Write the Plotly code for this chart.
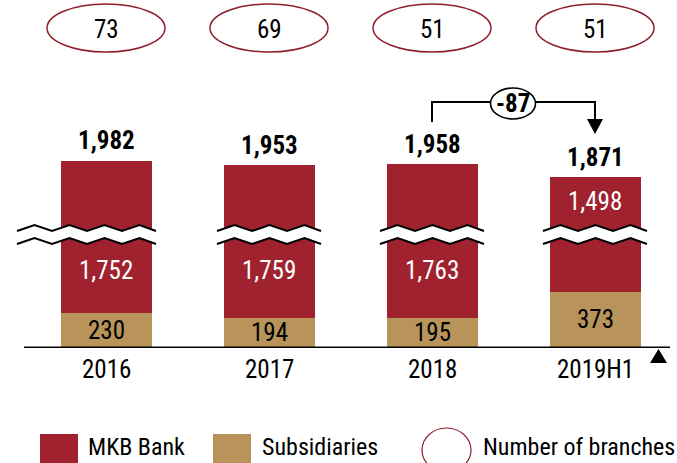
import plotly.graph_objects as go

# ---- data -------------------------------------------------------------
periods = ["2016", "2017", "2018", "2019H1"]
mkb_bank = [1752, 1759, 1763, 1498]
subsidiaries = [230, 194, 195, 373]
branches = [73, 69, 51, 51]
totals = [m + s for m, s in zip(mkb_bank, subsidiaries)]
change_label = "-87"

# ---- look -------------------------------------------------------------
RED = "#A0222F"
GOLD = "#B8945A"
RING = "#8E1F2C"
FONT = "Roboto Condensed, Liberation Sans, sans-serif"
FS = 25
FS_LEGEND = 24

W, H = 677, 463
X_STEP = 163.0          # px between category centres
X_FIRST = 106.0         # px of the first category centre
Y_BASE = 347.3          # px of the zero line
Y_SCALE = 0.149         # px per unit
CUT = 730               # units removed by the axis break
BREAK_MID = 757         # display units where the break sits
BAR_W = 91 / X_STEP

X0 = -X_FIRST / X_STEP
X1 = X0 + W / X_STEP
Y1 = Y_BASE / Y_SCALE
Y0 = -(H - Y_BASE) / Y_SCALE


def py(px_y):
    """pixel row -> y data value"""
    return (Y_BASE - px_y) / Y_SCALE


def dx(px):
    return px / X_STEP


def dy(px):
    return -px / Y_SCALE


def label(x, y, text, color="black", size=FS, **kw):
    return dict(x=x, y=y, text=text, showarrow=False, yanchor="middle",
                font=dict(size=size, color=color, family=FONT), **kw)


xs = list(range(len(periods)))
mkb_shown = [t - CUT - s for t, s in zip(totals, subsidiaries)]

fig = go.Figure()
fig.add_bar(x=xs, y=subsidiaries, marker=dict(color=GOLD, line=dict(width=0)),
            width=BAR_W, name="Subsidiaries", hoverinfo="skip")
fig.add_bar(x=xs, y=mkb_shown, marker=dict(color=RED, line=dict(width=0)),
            width=BAR_W, name="MKB Bank", hoverinfo="skip")

shapes = []
ann = []

# zero line and the marker at its right end
shapes.append(dict(type="line", xref="paper", yref="y", x0=24 / W, x1=670 / W,
                   y0=0, y1=0, line=dict(color="black", width=1.6)))
shapes.append(dict(type="path", xref="paper", yref="paper",
                   path=f"M {650/W} {1-363/H} L {667/W} {1-363/H} L {658.5/W} {1-349/H} Z",
                   fillcolor="black", line=dict(width=0)))

# axis-break zigzags
HALF = 17.5
AMP = 3.0
GAP = 13.0
for i in xs:
    left = -89 if i == 0 else -52
    right = 50 if i == 0 else 52
    pts = []
    k = 0
    while True:
        px = left + k * HALF
        if px >= right:
            px = right
        off = AMP if k % 2 == 0 else -AMP
        pts.append((px, off))
        if px >= right:
            break
        k += 1
    upper = [(i + dx(p), BREAK_MID + dy(o - GAP / 2)) for p, o in pts]
    lower = [(i + dx(p), BREAK_MID + dy(o + GAP / 2)) for p, o in pts]
    poly = "M " + " L ".join(f"{x} {y}" for x, y in upper + lower[::-1]) + " Z"
    shapes.append(dict(type="path", xref="x", yref="y", path=poly,
                       fillcolor="white", line=dict(width=0)))
    for line in (upper, lower):
        p = "M " + " L ".join(f"{x} {y}" for x, y in line)
        shapes.append(dict(type="path", xref="x", yref="y", path=p,
                           line=dict(color="black", width=2)))

LOWER_LABEL = py(270)
BREAK_TOP = BREAK_MID - dy(GAP / 2 + AMP)
for i in xs:
    top = totals[i] - CUT
    ann.append(label(i, top, f"<b>{totals[i]:,}</b>", yshift=20))
    if subsidiaries[i] > 300:
        ly = (BREAK_TOP + top) / 2
    else:
        ly = LOWER_LABEL
    ann.append(label(i, ly, f"{mkb_bank[i]:,}", color="white"))
    ann.append(label(i, subsidiaries[i] / 2, f"{subsidiaries[i]:,}"))
    ann.append(label(i, py(369), periods[i]))
    # branch-count ellipses
    shapes.append(dict(type="circle", xref="x", yref="y",
                       x0=i - dx(59), x1=i + dx(59), y0=py(52), y1=py(4),
                       line=dict(color=RING, width=1.5), fillcolor="white"))
    ann.append(label(i, py(29), str(branches[i])))

# change bracket between the last two periods
a, b = 2, 3
yb = py(102)
shapes.append(dict(type="path", xref="x", yref="y",
                   path=f"M {a} {py(122)} L {a} {yb} L {b} {yb} L {b} {py(121)}",
                   line=dict(color="black", width=2)))
shapes.append(dict(type="path", xref="x", yref="y",
                   path=f"M {b - dx(8)} {py(119)} L {b + dx(8)} {py(119)} L {b} {py(134)} Z",
                   fillcolor="black", line=dict(width=0)))
mid = a + dx(513 - 432)
shapes.append(dict(type="circle", xref="x", yref="y",
                   x0=mid - dx(22.5), x1=mid + dx(22.5), y0=py(119), y1=py(88),
                   line=dict(color="black", width=1.6), fillcolor="white"))
ann.append(label(mid, py(103.5), f"<b>{change_label}</b>"))

# legend
shapes.append(dict(type="rect", xref="paper", yref="paper",
                   x0=40 / W, x1=78 / W, y0=0, y1=1 - 434 / H,
                   fillcolor=RED, line=dict(width=0)))
shapes.append(dict(type="rect", xref="paper", yref="paper",
                   x0=213 / W, x1=251 / W, y0=0, y1=1 - 434 / H,
                   fillcolor=GOLD, line=dict(width=0)))
shapes.append(dict(type="circle", xref="paper", yref="paper",
                   x0=422 / W, x1=471 / W, y0=1 - 472 / H, y1=1 - 428 / H,
                   line=dict(color=RING, width=1.2)))
for text, x in (("MKB Bank", 86), ("Subsidiaries", 260), ("Number of branches", 481)):
    ann.append(dict(xref="paper", yref="paper", x=x / W, y=1 - 447 / H, text=text,
                    xanchor="left", yanchor="middle", showarrow=False,
                    font=dict(size=FS_LEGEND, color="black", family=FONT)))

fig.update_layout(
    width=W, height=H, barmode="stack", showlegend=False,
    margin=dict(l=0, r=0, t=0, b=0),
    paper_bgcolor="white", plot_bgcolor="white",
    xaxis=dict(range=[X0, X1], visible=False, fixedrange=True),
    yaxis=dict(range=[Y0, Y1], visible=False, fixedrange=True),
    shapes=shapes, annotations=ann,
)

fig.write_html("out.html")
